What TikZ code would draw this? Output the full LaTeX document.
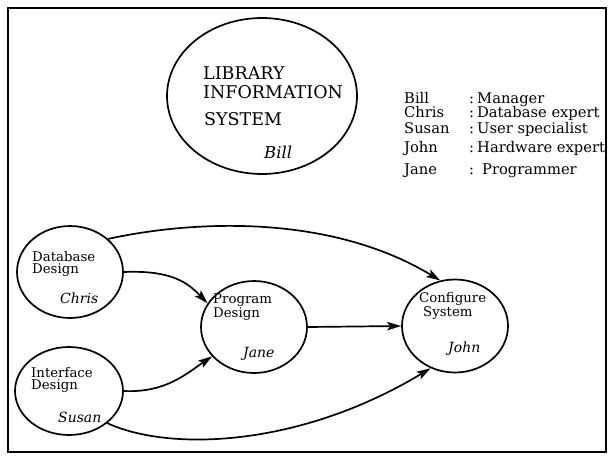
\documentclass[tikz,border=0pt]{standalone}
\usepackage{fontspec}
\setmainfont{DejaVu Serif}
\usetikzlibrary{shapes.geometric,arrows.meta}
\tikzset{
  proc/.style={ellipse, draw, line width=1.7pt, inner sep=0pt},
  lbl/.style={anchor=base west, inner sep=0pt, align=left, font=\fontsize{13.3}{12}\selectfont},
  who/.style={anchor=base west, inner sep=0pt, font=\fontsize{14}{14}\selectfont\itshape},
  big/.style={anchor=base west, inner sep=0pt, font=\fontsize{17.5}{17}\selectfont},
  leg/.style={anchor=base west, inner sep=0pt, font=\fontsize{14.7}{15}\selectfont},
  flow/.style={line width=1.7pt, -{Stealth[length=14pt,width=8.5pt,inset=3pt]}},
}
\begin{document}
\begin{tikzpicture}[x=1pt,y=-1pt]
\useasboundingbox (0,0) rectangle (609,455);
\draw[line width=1.2pt] (8,8) rectangle (606,452);

% main system ellipse
\node[proc, minimum width=190pt, minimum height=156pt] (lis) at (262,96) {};
\node[big] (lis1) at (203,79) {LIBRARY};
\node[big] (lis2) at (203,98) {INFORMATION};
\node[big] (lis3) at (204,125) {SYSTEM};
\node[big, font=\fontsize{16.4}{16}\selectfont\itshape] (lis4) at (264,158) {Bill};

% legend
\node[leg] (r1) at (404,103) {\makebox[65pt][l]{Bill}\makebox[8pt][l]{:}Manager};
\node[leg] (r2) at (404,117) {\makebox[65pt][l]{Chris}\makebox[8pt][l]{:}Database expert};
\node[leg] (r3) at (404,133) {\makebox[65pt][l]{Susan}\makebox[8pt][l]{:}User specialist};
\node[leg] (r4) at (404,152) {\makebox[65pt][l]{John}\makebox[8pt][l]{:}Hardware expert};
\node[leg] (r5) at (404,174) {\makebox[65pt][l]{Jane}\makebox[13pt][l]{:}Programmer};

% task ellipses
\node[proc, minimum width=106pt, minimum height=92pt] (db) at (70,272) {};
\node[proc, minimum width=106pt, minimum height=92pt] (pd) at (254,327) {};
\node[proc, minimum width=108pt, minimum height=88pt] (id) at (69,391) {};
\node[proc, minimum width=106pt, minimum height=93pt] (cs) at (455,326) {};

\node[lbl] (db1) at (32,273) {Database\\Design};
\node[who] (db3) at (60,303) {Chris};

\node[lbl] (pd1) at (213,317) {Program\\Design};
\node[who] (pd3) at (243,357) {Jane};

\node[lbl] (id1) at (31,389) {Interface\\Design};
\node[who] (id3) at (58,422) {Susan};

\node[lbl] (cs1) at (419,316) {Configure\\\hspace*{4pt}System};
\node[who] (cs3) at (448,352) {John};

% connectors
\draw[flow] (db.41) .. controls (195,220) and (330,214) .. (cs.108);
\draw[flow] (db.east) .. controls (172,270) and (188,283) .. (pd.153);
\draw[flow] (id.east) .. controls (165,393) and (186,374) .. (pd.215);
\draw[flow] (pd.east) -- (cs.west);
\draw[flow] (id.-40) .. controls (170,452) and (300,447) .. (cs.240);
\end{tikzpicture}
\end{document}
